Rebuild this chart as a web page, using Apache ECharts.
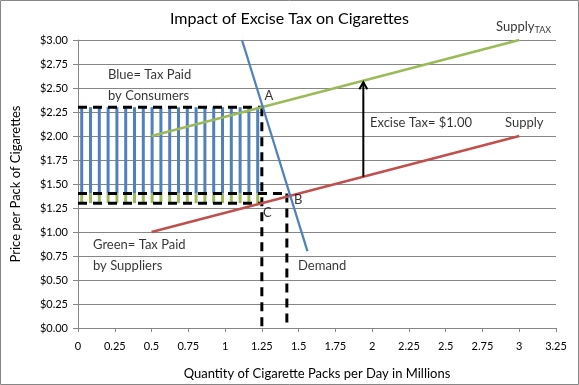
<!DOCTYPE html>
<html><head><meta charset="utf-8">
<script src="https://cdn.jsdelivr.net/npm/echarts@6/dist/echarts.min.js"></script>
<style>html,body{margin:0;padding:0;background:#fff}#c{width:579px;height:385px}</style>
</head><body><div id="c"></div>
<script>
// ---- data ----
const supply = [[0.5, 1.00], [3.0, 2.00]];
const supplyTax = [[0.5, 2.00], [3.0, 3.00]];
const demand = [[1.115, 3.00], [1.56, 0.80]];
const taxQty = 1.25;          // quantity with tax
const noTaxQty = 1.42;        // quantity without tax
const consumerPrice = 2.30;   // price paid by consumers
const noTaxPrice = 1.40;      // price without tax
const sellerPrice = 1.30;     // price received by suppliers
const taxArrow = [[1.94, 1.576], [1.94, 2.56]];
const annotations = [
  ['Blue= Tax Paid', 0.204, 2.638],
  ['by Consumers', 0.204, 2.42],
  ['Green= Tax Paid', 0.102, 0.869],
  ['by Suppliers', 0.102, 0.652],
  ['Demand', 1.496, 0.652],
  ['A', 1.268, 2.42],
  ['B', 1.469, 1.334],
  ['C', 1.258, 1.20],
  ['Excise Tax= $1.00', 1.985, 2.141],
  ['Supply', 2.903, 2.141],
  ['Supply{sub|TAX}', 2.842, 3.134]
];
const dashedSegments = [
  [[0, consumerPrice], [taxQty, consumerPrice]],
  [[0, noTaxPrice], [noTaxQty, noTaxPrice]],
  [[0, sellerPrice], [taxQty, sellerPrice]],
  [[taxQty, consumerPrice], [taxQty, 0]],
  [[noTaxQty, noTaxPrice], [noTaxQty, 0]]
];

const BLUE = '#4F81BD', RED = '#C0504D', GREEN = '#9BBB59';
const FONT = 'Lato';
const chart = echarts.init(document.getElementById('c'));

const series = [];
// hatched tax areas
series.push({
  type: 'custom', z: 2, silent: true,
  data: [[0, taxQty, sellerPrice, noTaxPrice, consumerPrice]],
  renderItem: function (params, api) {
    const pL = api.coord([api.value(0), api.value(4)]);
    const pR = api.coord([api.value(1), api.value(2)]);
    const yMid = api.coord([0, api.value(3)])[1];
    const children = [];
    for (let x = pL[0] + 3.7; x <= pR[0] + 0.5; x += 8.8) {
      children.push({type: 'line', shape: {x1: x, y1: pL[1], x2: x, y2: yMid},
        style: {stroke: BLUE, lineWidth: 3}});
      children.push({type: 'line', shape: {x1: x, y1: yMid, x2: x, y2: pR[1]},
        style: {stroke: GREEN, lineWidth: 3}});
    }
    return {type: 'group', children: children};
  }
});
dashedSegments.forEach(function (seg) {
  series.push({type: 'line', data: seg, symbol: 'none', z: 3, silent: true,
    lineStyle: {color: '#000', width: 3, type: [9, 6]}});
});
series.push({type: 'line', data: supply, symbol: 'none', z: 4,
  lineStyle: {color: RED, width: 2.5}});
series.push({type: 'line', data: supplyTax, symbol: 'none', z: 4,
  lineStyle: {color: GREEN, width: 2.5}});
series.push({type: 'line', data: demand, symbol: 'none', z: 4,
  lineStyle: {color: BLUE, width: 2.25}});
// tax arrow
series.push({
  type: 'custom', z: 5, silent: true,
  data: [[taxArrow[0][0], taxArrow[0][1], taxArrow[1][0], taxArrow[1][1]]],
  renderItem: function (params, api) {
    const a = api.coord([api.value(0), api.value(1)]);
    const b = api.coord([api.value(2), api.value(3)]);
    return {type: 'group', children: [
      {type: 'line', shape: {x1: a[0], y1: a[1], x2: b[0], y2: b[1]}, style: {stroke: '#000', lineWidth: 2}},
      {type: 'polyline', shape: {points: [[b[0] - 4, b[1] + 7], [b[0], b[1]], [b[0] + 4, b[1] + 7]]},
        style: {stroke: '#000', lineWidth: 2, fill: null}}
    ]};
  }
});
// annotations
series.push({
  type: 'scatter', z: 6, clip: false, silent: true, symbolSize: 0,
  data: annotations.map(function (a) { return {value: [a[1], a[2]], name: a[0]}; }),
  label: {show: true, position: 'right', distance: 0, formatter: '{b}',
    color: '#000', fontFamily: FONT, fontSize: 13,
    rich: {sub: {fontSize: 9, fontFamily: FONT, color: '#000', padding: [6, 0, 0, 0]}}}
});

chart.setOption({
  animation: false,
  title: {text: 'Impact of Excise Tax on Cigarettes', left: 'center', top: 6,
    textStyle: {fontFamily: FONT, fontSize: 16, fontWeight: 'normal', color: '#000'}},
  grid: {left: 78, right: 23, top: 40, bottom: 55},
  xAxis: {type: 'value', min: 0, max: 3.25, interval: 0.25,
    name: 'Quantity of Cigarette Packs per Day in Millions', nameLocation: 'middle', nameGap: 39,
    nameTextStyle: {fontFamily: FONT, fontSize: 13, color: '#000'},
    axisLine: {lineStyle: {color: '#868686'}},
    axisTick: {show: true, length: 4, lineStyle: {color: '#868686'}},
    axisLabel: {fontFamily: FONT, fontSize: 11, color: '#000', margin: 13},
    splitLine: {show: false}},
  yAxis: {type: 'value', min: 0, max: 3, interval: 0.25,
    name: 'Price per Pack of Cigarettes', nameLocation: 'middle', nameGap: 56,
    nameTextStyle: {fontFamily: FONT, fontSize: 13, color: '#000'},
    axisLine: {show: true, lineStyle: {color: '#868686'}},
    axisTick: {show: true, length: 5, lineStyle: {color: '#868686'}},
    axisLabel: {fontFamily: FONT, fontSize: 11, color: '#000', margin: 10,
      formatter: function (v) { return '$' + v.toFixed(2); }},
    splitLine: {show: true, lineStyle: {color: '#868686', width: 1}}},
  graphic: [{type: 'rect', shape: {x: 0.5, y: 0.5, width: 578, height: 384},
    style: {fill: null, stroke: '#868686', lineWidth: 1}, silent: true}],
  series: series
});
</script></body></html>
